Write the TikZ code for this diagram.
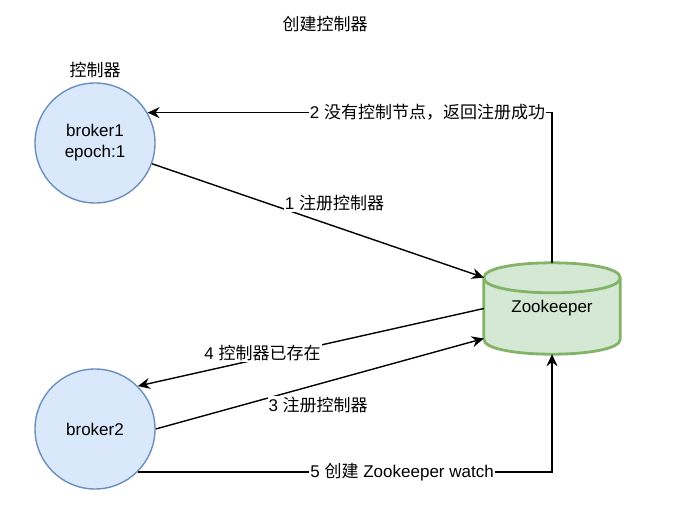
\documentclass[tikz,border=0pt]{standalone}
\usepackage{fontspec}
\setmainfont{Liberation Sans}
\newfontfamily\cjk{Noto Sans CJK SC}
\usetikzlibrary{arrows.meta,backgrounds}
\definecolor{brokerfill}{HTML}{DAE8FC}
\definecolor{brokerline}{HTML}{6C8EBF}
\definecolor{zkfill}{HTML}{D5E8D4}
\definecolor{zkline}{HTML}{82B366}

\begin{document}
\begin{tikzpicture}[x=1bp,y=-1bp,
  every node/.style={font=\fontsize{17bp}{21bp}\selectfont},
  broker/.style={circle,draw=brokerline,fill=brokerfill,line width=1.4bp,minimum size=120bp,align=center,inner sep=0},
  zkbox/.style={minimum width=136bp,minimum height=91bp,inner sep=0},
  msg/.style={line width=1.4bp,-{Stealth[length=12bp,width=11bp,inset=4bp]}},
  msglabel/.style={fill=white,inner sep=1bp}]
  \useasboundingbox (0,0) rectangle (678,517);
  \node (title) at (325,24) {\cjk 创建控制器};
  \node (ctrl) at (95,70) {\cjk 控制器};
  \node[broker] (b1) at (95,143) {broker1\\epoch:1};
  \node[broker] (b2) at (95,429) {broker2};
  \node[zkbox] (zk) at (552,308.5) {Zookeeper};
  % cylinder behind the Zookeeper node
  \begin{scope}[on background layer]
    \filldraw[fill=zkfill,draw=zkline,line width=2.8bp]
      ([yshift=-15bp]zk.north west) -- ([yshift=15bp]zk.south west)
      .. controls +(0,-20bp) and +(0,-20bp) .. ([yshift=15bp]zk.south east)
      -- ([yshift=-15bp]zk.north east)
      .. controls +(0,20bp) and +(0,20bp) .. ([yshift=-15bp]zk.north west) -- cycle;
    \draw[zkline,line width=2.8bp] ([yshift=-15bp]zk.north west)
      .. controls +(0,-20bp) and +(0,-20bp) .. ([yshift=-15bp]zk.north east);
  \end{scope}
  \draw[msg] (b1.-20) -- node[msglabel,pos=0.55,yshift=23bp] {1 {\cjk 注册控制器}} ([yshift=31bp]zk.west);
  \draw[msg] (zk.north) |- node[msglabel,pos=0.654] {2 {\cjk 没有控制节点，返回注册成功}} (b1.30);
  \draw[msg] (b2.east) -- node[msglabel,pos=0.495,yshift=-21bp] {3 {\cjk 注册控制器}} ([yshift=-30bp]zk.west);
  \draw[msg] (zk.west) -- node[msglabel,pos=0.64,yshift=5bp] {4 {\cjk 控制器已存在}} (b2.45);
  \draw[msg] (b2.-45) -| node[msglabel,pos=0.319] {5 {\cjk 创建} Zookeeper watch} (zk.south);
\end{tikzpicture}
\end{document}
